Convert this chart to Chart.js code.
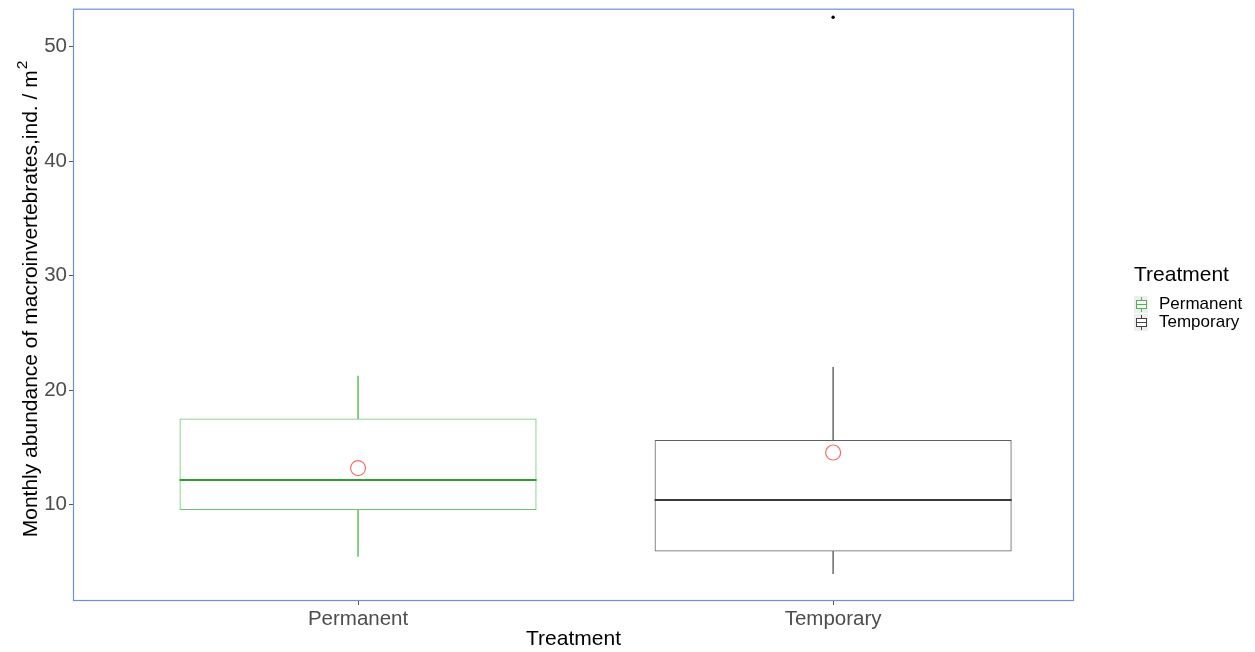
<!DOCTYPE html>
<html>
<head>
<meta charset="utf-8">
<script src="https://cdn.jsdelivr.net/npm/chart.js@4/dist/chart.umd.min.js"></script>
<style>
  html, body { margin: 0; padding: 0; background: #ffffff; }
  #wrap { position: relative; width: 1255px; height: 652px; overflow: hidden; }
  #c { position: absolute; left: 0; top: 0; }
  #legend { position: absolute; left: 1134px; top: 261px; font-family: "Liberation Sans", Arial, sans-serif; color: #000; }
  #legend .title { font-size: 21px; line-height: 26px; margin-bottom: 8px; }
  #legend .item { display: flex; align-items: center; height: 18px; font-size: 17px; }
  #legend .item canvas { margin-right: 11px; flex: none; }
</style>
</head>
<body>
<div id="wrap">
  <canvas id="c" width="1255" height="652"></canvas>
  <div id="legend"></div>
</div>
<script>
// Box-plot summary per treatment group
const categories   = ['Permanent', 'Temporary'];
const whiskerLow   = [5.49, 3.99];
const lowerQuart   = [9.54, 5.93];
const medians      = [12.18, 10.44];
const upperQuart   = [17.52, 15.66];
const whiskerHigh  = [21.24, 22.0];
const means        = [13.2, 14.56];
const outlierGroup = [2];          // position of the group (1 = Permanent, 2 = Temporary)
const outlierValue = [52.55];
const yTicks       = [10, 20, 30, 40, 50];

const boxColors     = ['#6cc46c', '#606060'];
const medianColors  = ['#30a030', '#3a3a3a'];
const whiskerColors = ['#6cc46c', '#777777'];
const meanColor     = '#ff6b6b';
const FONT = '"Liberation Sans", Arial, sans-serif';

// Group i sits at x = i + 1 on the horizontal scale
const pos = categories.map((_, i) => i + 1);
const boxRange = pos.map((p, i) => ({ x: p, y: [lowerQuart[i], upperQuart[i]] }));
const topWhisk = pos.map((p, i) => ({ x: p, y: [upperQuart[i], whiskerHigh[i]] }));
const botWhisk = pos.map((p, i) => ({ x: p, y: [whiskerLow[i], lowerQuart[i]] }));
const meanPts  = pos.map((p, i) => ({ x: p, y: means[i] }));
const outPts   = outlierGroup.map((p, i) => ({ x: p, y: outlierValue[i] }));

const whiskCommon = {
  type: 'bar', grouped: false, backgroundColor: whiskerColors,
  borderWidth: 0, barThickness: 1, categoryPercentage: 1
};

// Median line across each box, at the median value on the y scale
const medianLines = {
  id: 'medianLines',
  afterDatasetsDraw(chart) {
    const meta = chart.getDatasetMeta(0);
    const y = chart.scales.y;
    const { ctx } = chart;
    ctx.save();
    meta.data.forEach((bar, i) => {
      const py = Math.round(y.getPixelForValue(medians[i]));
      ctx.strokeStyle = medianColors[i];
      ctx.lineWidth = 2;
      ctx.beginPath();
      ctx.moveTo(bar.x - bar.width / 2, py);
      ctx.lineTo(bar.x + bar.width / 2, py);
      ctx.stroke();
    });
    ctx.restore();
  }
};

// Panel border drawn around the plotting area
const panelBorder = {
  id: 'panelBorder',
  afterDraw(chart) {
    const { ctx, chartArea: a } = chart;
    ctx.save();
    ctx.strokeStyle = '#6f8fd6';
    ctx.lineWidth = 1.2;
    ctx.strokeRect(a.left + 0.5, a.top + 0.5, a.right - a.left - 1, a.bottom - a.top - 1);
    ctx.restore();
  }
};

// Rotated y-axis title with a raised exponent
const yTitle = {
  id: 'yTitle',
  afterDraw(chart) {
    const { ctx } = chart;
    const main = 'Monthly abundance of macroinvertebrates,ind. / m';
    const sup = '2';
    ctx.save();
    ctx.fillStyle = '#000';
    ctx.font = '21px ' + FONT;
    const wMain = ctx.measureText(main).width;
    ctx.font = '15.5px ' + FONT;
    const wSup = ctx.measureText(sup).width;
    const total = wMain + wSup + 1;
    ctx.translate(37, 299);
    ctx.rotate(-Math.PI / 2);
    ctx.textBaseline = 'alphabetic';
    ctx.textAlign = 'left';
    ctx.font = '21px ' + FONT;
    ctx.fillText(main, -total / 2, 0);
    ctx.font = '15.5px ' + FONT;
    ctx.fillText(sup, -total / 2 + wMain + 1, -10.5);
    ctx.restore();
  }
};

new Chart(document.getElementById('c'), {
  type: 'bar',
  data: {
    datasets: [
      {
        type: 'bar', label: 'box', data: boxRange, grouped: false,
        backgroundColor: 'rgba(0,0,0,0)', borderColor: boxColors, borderWidth: 1,
        borderSkipped: false, barPercentage: 0.7516, categoryPercentage: 1
      },
      Object.assign({ label: 'whiskerHigh', data: topWhisk }, whiskCommon),
      Object.assign({ label: 'whiskerLow', data: botWhisk }, whiskCommon),
      {
        type: 'line', label: 'mean', data: meanPts, showLine: false,
        pointStyle: 'circle', pointRadius: 7.5, pointBorderWidth: 1.2,
        pointBorderColor: meanColor, pointBackgroundColor: 'rgba(0,0,0,0)'
      },
      {
        type: 'line', label: 'outlier', data: outPts, showLine: false,
        pointStyle: 'circle', pointRadius: 1.7, pointBorderWidth: 0,
        pointBackgroundColor: '#000', pointBorderColor: '#000'
      }
    ]
  },
  options: {
    responsive: false,
    animation: false,
    layout: { padding: { top: 7, right: 181, left: 0, bottom: 0 } },
    plugins: { legend: { display: false }, tooltip: { enabled: false } },
    scales: {
      x: {
        type: 'linear',
        min: 0.4, max: 2.507,
        offset: false,
        grid: { display: true, drawOnChartArea: false, tickLength: 4, color: '#555', offset: false },
        border: { display: false },
        afterBuildTicks(s) { s.ticks = pos.map(v => ({ value: v })); },
        ticks: {
          color: '#4d4d4d', font: { family: FONT, size: 20.5 }, padding: 2,
          callback: (v) => categories[v - 1]
        },
        title: { display: true, text: 'Treatment', color: '#000', font: { family: FONT, size: 21 }, padding: { top: 0, bottom: 0 } },
        afterFit(s) { s.height = 51; s.paddingLeft = 0; s.paddingRight = 0; }
      },
      y: {
        type: 'linear',
        min: 1.6, max: 53.3,
        grid: { display: true, drawOnChartArea: false, tickLength: 4, color: '#555' },
        border: { display: false },
        afterBuildTicks(s) { s.ticks = yTicks.map(v => ({ value: v })); },
        ticks: { color: '#4d4d4d', font: { family: FONT, size: 20.5 }, padding: 2 },
        afterFit(s) { s.width = 73; s.paddingTop = 0; s.paddingBottom = 0; }
      }
    }
  },
  plugins: [medianLines, panelBorder, yTitle]
});

// Legend with small box-plot glyphs
const legend = document.getElementById('legend');
const t = document.createElement('div');
t.className = 'title';
t.textContent = 'Treatment';
legend.appendChild(t);
categories.forEach((name, i) => {
  const row = document.createElement('div');
  row.className = 'item';
  const k = document.createElement('canvas');
  k.width = 14; k.height = 17;
  const g = k.getContext('2d');
  g.fillStyle = '#eeeeee';
  g.fillRect(0, 0, 14, 17);
  g.strokeStyle = i === 0 ? '#4cb84c' : '#444444';
  g.lineWidth = 1;
  g.beginPath(); g.moveTo(7.5, 1); g.lineTo(7.5, 16); g.stroke();
  g.fillStyle = '#ffffff';
  g.fillRect(2.5, 4.5, 10, 8);
  g.strokeRect(2.5, 4.5, 10, 8);
  g.beginPath(); g.moveTo(2.5, 8.5); g.lineTo(12.5, 8.5); g.stroke();
  row.appendChild(k);
  const s = document.createElement('span');
  s.textContent = name;
  row.appendChild(s);
  legend.appendChild(row);
});
</script>
</body>
</html>
